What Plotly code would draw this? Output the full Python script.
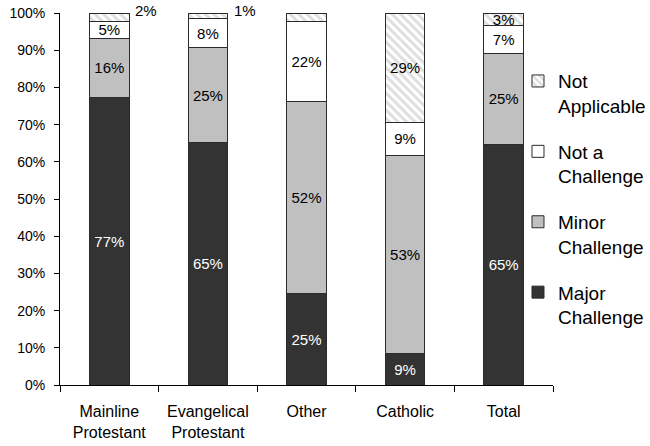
import plotly.graph_objects as go

# Survey responses by denomination, share of respondents (%)
categories = ["Mainline<br>Protestant", "Evangelical<br>Protestant", "Other", "Catholic", "Total"]
major_challenge = [77.3, 65.2, 24.6, 8.6, 64.6]
minor_challenge = [15.9, 25.4, 51.6, 53.2, 24.6]
not_a_challenge = [4.6, 8.0, 21.6, 8.8, 7.4]
not_applicable = [2.2, 1.4, 2.2, 29.4, 3.4]

y_ticks = list(range(0, 101, 10))
y_tick_labels = [f"{v}%" for v in y_ticks]

FONT = "Liberation Sans, Arial, sans-serif"
OUTLINE = dict(color="#2b2b2b", width=1)
LABEL_FONT = 15

fig = go.Figure()

fig.add_bar(
    x=categories, y=major_challenge, name="Major<br>Challenge",
    marker=dict(color="#333333", line=OUTLINE),
    texttemplate="%{y:.0f}%", textposition="inside", insidetextanchor="middle",
    textangle=0,
    textfont=dict(color="white", size=LABEL_FONT, family=FONT),
    constraintext="none", legendgroup="major", legendrank=4,
)
fig.add_bar(
    x=categories, y=minor_challenge, name="Minor<br>Challenge",
    marker=dict(color="#c0c0c0", line=OUTLINE),
    texttemplate="%{y:.0f}%", textposition="inside", insidetextanchor="middle",
    textangle=0,
    textfont=dict(color="black", size=LABEL_FONT, family=FONT),
    constraintext="none", legendgroup="minor", legendrank=3,
)
fig.add_bar(
    x=categories, y=not_a_challenge, name="Not a<br>Challenge",
    marker=dict(color="white", line=OUTLINE),
    texttemplate="%{y:.0f}%", textposition="inside", insidetextanchor="middle",
    textangle=0,
    textfont=dict(color="black", size=LABEL_FONT, family=FONT),
    constraintext="none", legendgroup="notchal", legendrank=2,
)

# Small "not applicable" segments get their label beside the bar instead of inside
na_inside_text = [f"{v:.0f}%" if v >= 3 else "" for v in not_applicable]
fig.add_bar(
    x=categories, y=not_applicable, name="Not<br>Applicable",
    marker=dict(
        color="white", line=OUTLINE,
        pattern=dict(shape="\\", fgcolor="#bdbdbd", bgcolor="white",
                     size=6, solidity=0.5),
    ),
    text=na_inside_text, texttemplate="%{text}", textposition="inside",
    insidetextanchor="middle", textangle=0,
    textfont=dict(color="black", size=LABEL_FONT, family=FONT),
    constraintext="none", legendgroup="na", legendrank=1,
)

for cat, a, b, c, d in zip(categories, major_challenge, minor_challenge,
                           not_a_challenge, not_applicable):
    if d < 3:
        top = a + b + c + d
        fig.add_annotation(
            x=cat, y=top, xref="x", yref="y", text=f"{d:.0f}%",
            showarrow=False, xanchor="left", yanchor="middle", xshift=24, yshift=3,
            font=dict(size=LABEL_FONT, color="black", family=FONT),
        )

fig.update_layout(
    barmode="stack",
    bargap=0.6,
    width=650, height=446,
    margin=dict(l=60, r=97, t=13, b=61, autoexpand=False),
    paper_bgcolor="white", plot_bgcolor="white",
    font=dict(family=FONT, color="black"),
    showlegend=True,
    legend=dict(
        x=0.929, y=0.868, xanchor="left", yanchor="top",
        traceorder="grouped", tracegroupgap=18, valign="top",
        font=dict(size=19, family=FONT, color="black"),
        bgcolor="rgba(0,0,0,0)",
    ),
    uniformtext=dict(mode=False),
)

fig.update_xaxes(
    showline=True, linecolor="black", linewidth=1,
    ticks="outside", ticklen=6, tickcolor="black", tickson="boundaries",
    tickangle=0, automargin=False,
    tickfont=dict(size=16, family=FONT, color="black"),
    showgrid=False, zeroline=False, ticklabelstandoff=12,
)
fig.update_yaxes(
    range=[0, 100], tickvals=y_ticks, ticktext=y_tick_labels,
    showline=True, linecolor="black", linewidth=1,
    ticks="outside", ticklen=5, tickcolor="black", automargin=False,
    tickfont=dict(size=14, family=FONT, color="black"),
    showgrid=False, zeroline=False, ticklabelstandoff=6,
)

fig.write_html("out.html")
